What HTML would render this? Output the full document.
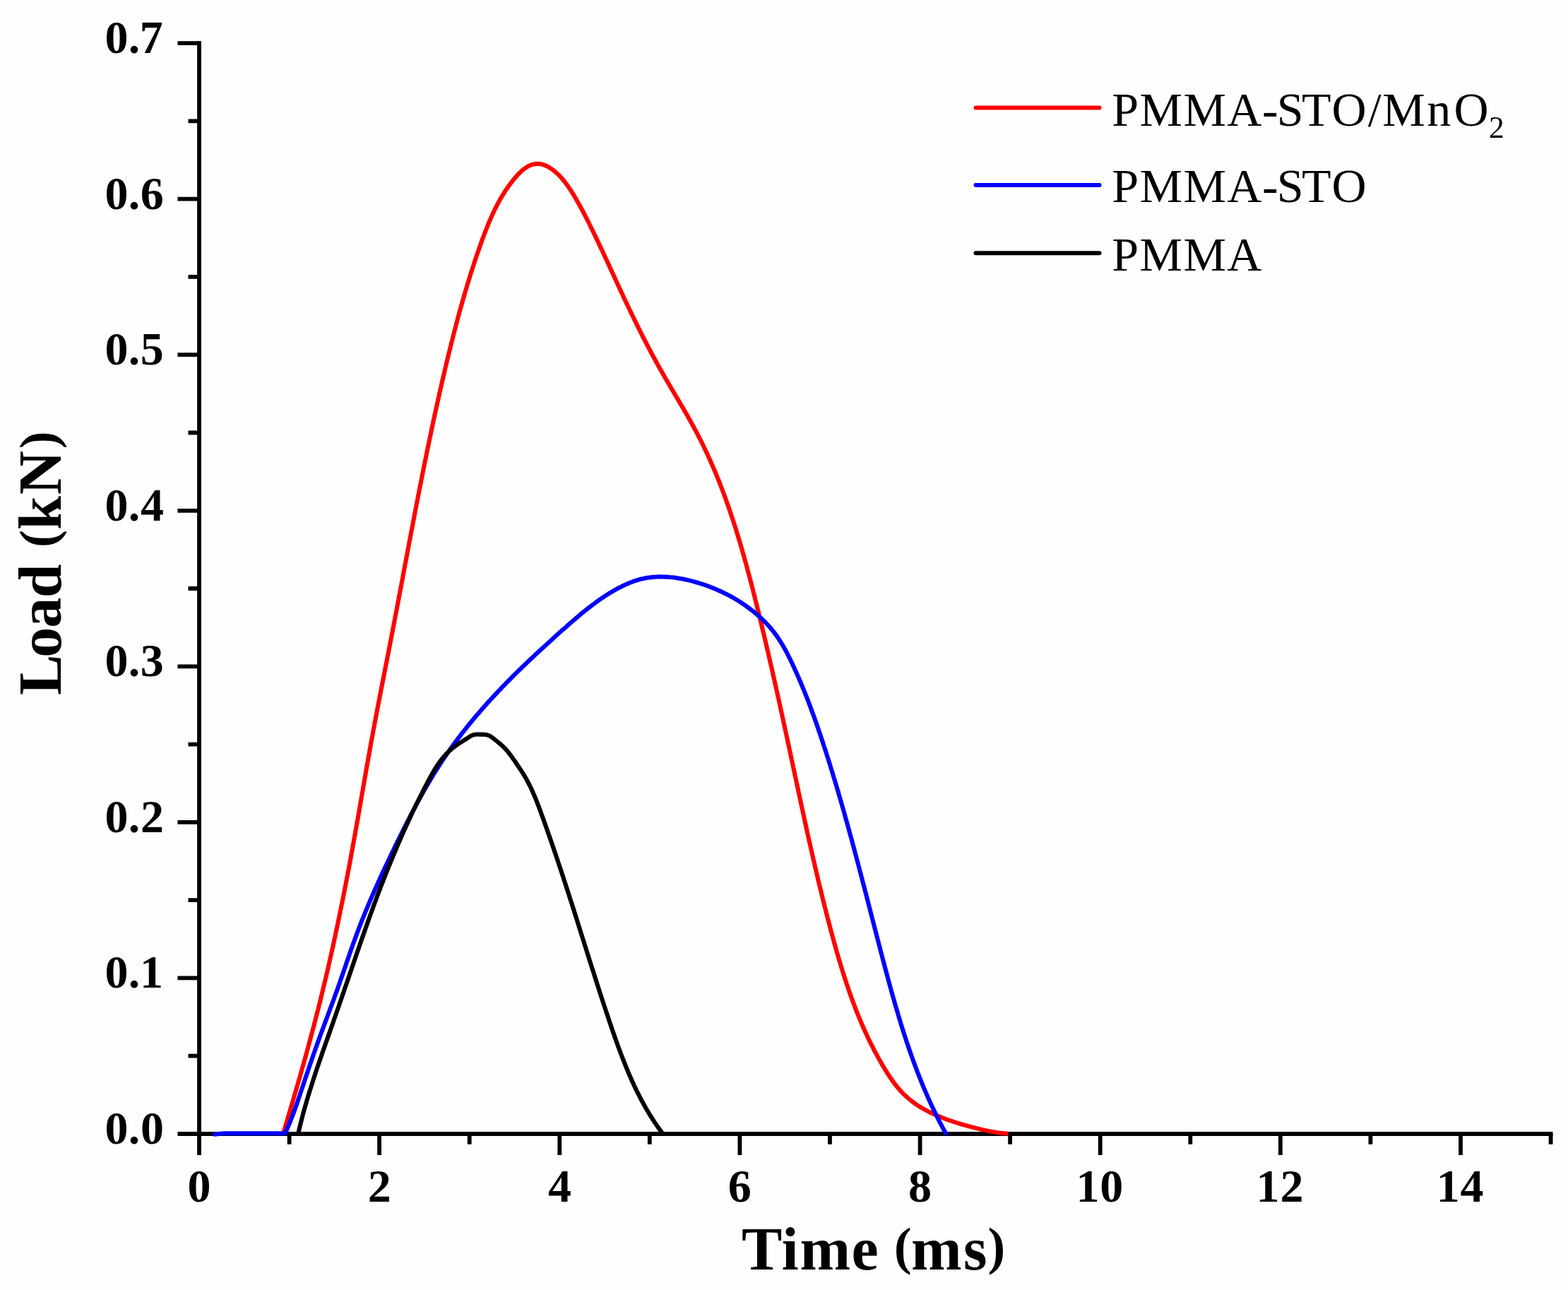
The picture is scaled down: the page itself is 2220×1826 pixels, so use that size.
<!DOCTYPE html>
<html><head><meta charset="utf-8"><title>Load vs Time</title>
<style>
html,body{margin:0;padding:0;background:#fff;}
body{width:2220px;height:1826px;overflow:hidden;}
svg{display:block;}
</style></head>
<body>
<svg width="2220" height="1826" viewBox="0 0 2220 1826">
<rect width="2220" height="1826" fill="#fefefe"/>
<path d="M282.0,61.08 V1605.0 H2195.55" fill="none" stroke="#000" stroke-width="5.8" stroke-linecap="square" stroke-linejoin="miter"/>
<path d="M251.5,1605.0H282.0M266.5,1494.7H282.0M251.5,1384.4H282.0M266.5,1274.2H282.0M251.5,1163.9H282.0M266.5,1053.6H282.0M251.5,943.3H282.0M266.5,833.0H282.0M251.5,722.8H282.0M266.5,612.5H282.0M251.5,502.2H282.0M266.5,391.9H282.0M251.5,281.6H282.0M266.5,171.4H282.0M251.5,61.1H282.0M282.0,1605.0V1635.0M409.6,1605.0V1619.7M537.1,1605.0V1635.0M664.7,1605.0V1619.7M792.3,1605.0V1635.0M919.8,1605.0V1619.7M1047.4,1605.0V1635.0M1175.0,1605.0V1619.7M1302.6,1605.0V1635.0M1430.1,1605.0V1619.7M1557.7,1605.0V1635.0M1685.3,1605.0V1619.7M1812.8,1605.0V1635.0M1940.4,1605.0V1619.7M2068.0,1605.0V1635.0M2195.6,1605.0V1619.7" fill="none" stroke="#000" stroke-width="5.8" stroke-linecap="butt"/>
<path d="M401.2,1603.8 L402.0,1600.9 L402.9,1598.1 L403.8,1595.2 L404.6,1592.3 L405.5,1589.5 L406.3,1586.6 L407.2,1583.7 L408.0,1580.8 L408.9,1578.0 L409.7,1575.1 L410.6,1572.2 L411.4,1569.4 L412.3,1566.5 L413.1,1563.6 L414.0,1560.7 L414.8,1557.9 L415.6,1555.0 L416.5,1552.1 L417.3,1549.2 L418.1,1546.4 L419.0,1543.5 L419.8,1540.6 L420.6,1537.7 L421.5,1534.8 L422.3,1532.0 L423.1,1529.1 L424.0,1526.2 L424.8,1523.3 L425.6,1520.4 L426.4,1517.6 L427.2,1514.7 L428.0,1511.8 L428.9,1508.9 L429.7,1506.0 L430.5,1503.1 L431.3,1500.2 L432.1,1497.4 L432.9,1494.5 L433.7,1491.6 L434.5,1488.7 L435.3,1485.8 L436.1,1482.9 L436.8,1480.0 L437.6,1477.1 L438.4,1474.2 L439.2,1471.3 L440.0,1468.4 L440.7,1465.5 L441.5,1462.6 L442.3,1459.7 L443.1,1456.9 L443.8,1454.0 L444.6,1451.1 L445.3,1448.2 L446.1,1445.3 L446.8,1442.4 L447.6,1439.4 L448.3,1436.5 L449.1,1433.6 L449.8,1430.7 L450.6,1427.8 L451.3,1424.9 L452.0,1422.0 L452.8,1419.1 L453.5,1416.2 L454.2,1413.3 L454.9,1410.4 L455.6,1407.5 L456.3,1404.6 L457.0,1401.6 L457.7,1398.7 L458.4,1395.8 L459.1,1392.9 L459.8,1390.0 L460.5,1387.1 L461.2,1384.2 L461.9,1381.2 L462.6,1378.3 L463.3,1375.4 L463.9,1372.5 L464.6,1369.6 L465.3,1366.6 L466.0,1363.7 L466.6,1360.8 L467.3,1357.9 L467.9,1354.9 L468.6,1352.0 L469.2,1349.1 L469.9,1346.2 L470.5,1343.2 L471.2,1340.3 L471.8,1337.4 L472.5,1334.5 L473.1,1331.5 L473.7,1328.6 L474.4,1325.7 L475.0,1322.7 L475.6,1319.8 L476.2,1316.9 L476.9,1314.0 L477.5,1311.0 L478.1,1308.1 L478.7,1305.2 L479.3,1302.2 L479.9,1299.3 L480.5,1296.3 L481.1,1293.4 L481.7,1290.5 L482.3,1287.5 L482.9,1284.6 L483.5,1281.7 L484.1,1278.7 L484.7,1275.8 L485.3,1272.8 L485.9,1269.9 L486.5,1267.0 L487.1,1264.0 L487.6,1261.1 L488.2,1258.1 L488.8,1255.2 L489.4,1252.3 L489.9,1249.3 L490.5,1246.4 L491.1,1243.4 L491.6,1240.5 L492.2,1237.5 L492.7,1234.6 L493.3,1231.7 L493.9,1228.7 L494.4,1225.8 L495.0,1222.8 L495.5,1219.9 L496.1,1216.9 L496.6,1214.0 L497.1,1211.0 L497.7,1208.1 L498.2,1205.1 L498.8,1202.2 L499.3,1199.2 L499.8,1196.3 L500.4,1193.3 L500.9,1190.4 L501.4,1187.4 L502.0,1184.5 L502.5,1181.5 L503.0,1178.6 L503.5,1175.6 L504.1,1172.7 L504.6,1169.7 L505.1,1166.8 L505.6,1163.8 L506.2,1160.9 L506.7,1157.9 L507.2,1155.0 L507.7,1152.0 L508.2,1149.1 L508.7,1146.1 L509.3,1143.2 L509.8,1140.2 L510.3,1137.3 L510.8,1134.3 L511.3,1131.4 L511.8,1128.4 L512.3,1125.5 L512.8,1122.5 L513.4,1119.6 L513.9,1116.6 L514.4,1113.7 L514.9,1110.7 L515.4,1107.8 L515.9,1104.8 L516.4,1101.8 L517.0,1098.9 L517.5,1095.9 L518.0,1093.0 L518.5,1090.0 L519.0,1087.1 L519.5,1084.1 L520.1,1081.2 L520.6,1078.2 L521.1,1075.3 L521.6,1072.3 L522.2,1069.4 L522.7,1066.4 L523.2,1063.5 L523.7,1060.5 L524.3,1057.6 L524.8,1054.6 L525.3,1051.7 L525.9,1048.7 L526.4,1045.8 L527.0,1042.8 L527.5,1039.9 L528.0,1036.9 L528.6,1034.0 L529.1,1031.1 L529.7,1028.1 L530.2,1025.2 L530.8,1022.2 L531.3,1019.3 L531.9,1016.3 L532.5,1013.4 L533.0,1010.4 L533.6,1007.5 L534.1,1004.5 L534.7,1001.6 L535.3,998.7 L535.8,995.7 L536.4,992.8 L537.0,989.8 L537.5,986.9 L538.1,983.9 L538.7,981.0 L539.2,978.0 L539.8,975.1 L540.4,972.2 L541.0,969.2 L541.5,966.3 L542.1,963.3 L542.7,960.4 L543.3,957.4 L543.8,954.5 L544.4,951.6 L545.0,948.6 L545.6,945.7 L546.1,942.7 L546.7,939.8 L547.3,936.9 L547.9,933.9 L548.4,931.0 L549.0,928.0 L549.6,925.1 L550.2,922.1 L550.7,919.2 L551.3,916.3 L551.9,913.3 L552.4,910.4 L553.0,907.4 L553.6,904.5 L554.2,901.5 L554.7,898.6 L555.3,895.7 L555.9,892.7 L556.4,889.8 L557.0,886.8 L557.6,883.9 L558.1,880.9 L558.7,878.0 L559.2,875.1 L559.8,872.1 L560.4,869.2 L560.9,866.2 L561.5,863.3 L562.0,860.3 L562.6,857.4 L563.2,854.5 L563.7,851.5 L564.3,848.6 L564.8,845.6 L565.4,842.7 L565.9,839.7 L566.5,836.8 L567.0,833.9 L567.6,830.9 L568.2,828.0 L568.7,825.0 L569.3,822.1 L569.8,819.1 L570.4,816.2 L570.9,813.2 L571.5,810.3 L572.0,807.4 L572.6,804.4 L573.1,801.5 L573.7,798.5 L574.3,795.6 L574.8,792.6 L575.4,789.7 L575.9,786.7 L576.5,783.8 L577.0,780.9 L577.6,777.9 L578.1,775.0 L578.7,772.0 L579.2,769.1 L579.8,766.1 L580.4,763.2 L580.9,760.3 L581.5,757.3 L582.0,754.4 L582.6,751.4 L583.2,748.5 L583.7,745.5 L584.3,742.6 L584.8,739.7 L585.4,736.7 L586.0,733.8 L586.5,730.8 L587.1,727.9 L587.6,724.9 L588.2,722.0 L588.8,719.1 L589.3,716.1 L589.9,713.2 L590.5,710.2 L591.1,707.3 L591.6,704.3 L592.2,701.4 L592.8,698.5 L593.3,695.5 L593.9,692.6 L594.5,689.6 L595.1,686.7 L595.7,683.8 L596.2,680.8 L596.8,677.9 L597.4,674.9 L598.0,672.0 L598.6,669.0 L599.2,666.1 L599.7,663.2 L600.3,660.2 L600.9,657.3 L601.5,654.3 L602.1,651.4 L602.7,648.5 L603.3,645.5 L603.9,642.6 L604.5,639.7 L605.1,636.7 L605.7,633.8 L606.3,630.8 L606.9,627.9 L607.5,625.0 L608.1,622.0 L608.7,619.1 L609.4,616.2 L610.0,613.2 L610.6,610.3 L611.2,607.3 L611.8,604.4 L612.5,601.5 L613.1,598.5 L613.7,595.6 L614.3,592.7 L615.0,589.7 L615.6,586.8 L616.2,583.9 L616.9,580.9 L617.5,578.0 L618.2,575.1 L618.8,572.2 L619.5,569.2 L620.1,566.3 L620.8,563.4 L621.4,560.4 L622.1,557.5 L622.7,554.6 L623.4,551.7 L624.1,548.7 L624.7,545.8 L625.4,542.9 L626.1,540.0 L626.7,537.1 L627.4,534.1 L628.1,531.2 L628.8,528.3 L629.5,525.4 L630.1,522.5 L630.8,519.6 L631.5,516.6 L632.2,513.7 L632.9,510.8 L633.6,507.9 L634.3,505.0 L635.0,502.1 L635.7,499.2 L636.5,496.3 L637.2,493.4 L637.9,490.5 L638.6,487.6 L639.3,484.7 L640.1,481.8 L640.8,478.9 L641.5,476.0 L642.3,473.1 L643.0,470.2 L643.8,467.3 L644.5,464.4 L645.3,461.5 L646.1,458.6 L646.8,455.7 L647.6,452.8 L648.4,449.9 L649.1,447.0 L649.9,444.2 L650.7,441.3 L651.5,438.4 L652.3,435.5 L653.1,432.6 L653.9,429.8 L654.7,426.9 L655.5,424.0 L656.4,421.1 L657.2,418.3 L658.0,415.4 L658.9,412.5 L659.7,409.7 L660.6,406.8 L661.4,403.9 L662.3,401.1 L663.2,398.2 L664.1,395.3 L664.9,392.5 L665.8,389.6 L666.7,386.8 L667.6,383.9 L668.6,381.0 L669.5,378.2 L670.4,375.3 L671.3,372.5 L672.3,369.6 L673.2,366.8 L674.2,363.9 L675.1,361.1 L676.1,358.3 L677.1,355.4 L678.1,352.6 L679.1,349.7 L680.1,346.9 L681.1,344.1 L682.1,341.2 L683.1,338.4 L684.2,335.6 L685.2,332.8 L686.3,329.9 L687.4,327.1 L688.5,324.3 L689.6,321.5 L690.7,318.7 L691.8,316.0 L693.0,313.2 L694.2,310.4 L695.4,307.7 L696.6,304.9 L697.9,302.2 L699.1,299.5 L700.4,296.8 L701.8,294.1 L703.1,291.5 L704.5,288.8 L705.9,286.2 L707.3,283.6 L708.8,281.0 L710.3,278.4 L711.9,275.9 L713.4,273.3 L715.0,270.8 L716.7,268.3 L718.4,265.9 L720.1,263.4 L721.9,261.0 L723.7,258.6 L725.5,256.3 L727.4,253.9 L729.3,251.6 L731.3,249.4 L733.3,247.1 L735.4,245.0 L737.6,242.8 L739.8,240.8 L742.2,238.9 L744.7,237.2 L747.2,235.6 L749.9,234.3 L752.7,233.2 L755.5,232.4 L758.4,231.9 L761.2,231.8 L764.1,232.0 L767.0,232.5 L769.8,233.4 L772.6,234.4 L775.3,235.7 L777.9,237.2 L780.5,238.9 L782.9,240.6 L785.3,242.5 L787.5,244.4 L789.7,246.4 L791.9,248.5 L793.9,250.7 L795.9,252.9 L797.8,255.2 L799.7,257.6 L801.5,260.0 L803.3,262.4 L805.0,264.9 L806.7,267.4 L808.4,269.9 L810.0,272.5 L811.6,275.0 L813.1,277.6 L814.7,280.2 L816.2,282.8 L817.7,285.4 L819.1,288.0 L820.6,290.6 L822.0,293.2 L823.5,295.8 L824.9,298.5 L826.3,301.1 L827.6,303.7 L829.0,306.4 L830.4,309.0 L831.7,311.7 L833.1,314.4 L834.4,317.0 L835.7,319.7 L837.0,322.4 L838.4,325.1 L839.7,327.8 L841.0,330.5 L842.3,333.2 L843.6,335.8 L844.9,338.6 L846.2,341.3 L847.5,344.0 L848.7,346.7 L850.0,349.4 L851.3,352.1 L852.6,354.8 L853.8,357.5 L855.1,360.3 L856.4,363.0 L857.6,365.7 L858.9,368.4 L860.2,371.2 L861.4,373.9 L862.7,376.6 L863.9,379.4 L865.2,382.1 L866.4,384.8 L867.7,387.5 L869.0,390.3 L870.2,393.0 L871.5,395.7 L872.7,398.5 L874.0,401.2 L875.2,403.9 L876.5,406.6 L877.8,409.4 L879.0,412.1 L880.3,414.8 L881.6,417.5 L882.8,420.2 L884.1,423.0 L885.4,425.7 L886.7,428.4 L888.0,431.1 L889.2,433.8 L890.5,436.5 L891.8,439.2 L893.1,441.9 L894.4,444.6 L895.7,447.3 L897.0,450.0 L898.3,452.7 L899.7,455.4 L901.0,458.1 L902.3,460.8 L903.6,463.4 L905.0,466.1 L906.3,468.8 L907.6,471.5 L909.0,474.1 L910.3,476.8 L911.7,479.5 L913.1,482.1 L914.4,484.8 L915.8,487.4 L917.2,490.1 L918.6,492.8 L920.0,495.4 L921.4,498.0 L922.8,500.7 L924.2,503.3 L925.6,506.0 L927.1,508.6 L928.5,511.2 L929.9,513.8 L931.4,516.5 L932.8,519.1 L934.3,521.7 L935.8,524.3 L937.3,526.9 L938.7,529.5 L940.2,532.1 L941.7,534.7 L943.2,537.3 L944.8,539.9 L946.3,542.5 L947.8,545.1 L949.3,547.7 L950.8,550.2 L952.4,552.8 L953.9,555.4 L955.4,558.0 L956.9,560.6 L958.5,563.2 L960.0,565.8 L961.5,568.3 L963.0,570.9 L964.5,573.5 L966.1,576.1 L967.6,578.7 L969.1,581.3 L970.6,583.9 L972.1,586.5 L973.6,589.1 L975.0,591.7 L976.5,594.3 L978.0,597.0 L979.4,599.6 L980.9,602.2 L982.3,604.8 L983.7,607.5 L985.2,610.1 L986.6,612.8 L988.0,615.4 L989.3,618.1 L990.7,620.7 L992.1,623.4 L993.4,626.1 L994.7,628.8 L996.0,631.5 L997.3,634.2 L998.6,636.9 L999.9,639.6 L1001.2,642.3 L1002.4,645.0 L1003.7,647.7 L1004.9,650.5 L1006.1,653.2 L1007.3,656.0 L1008.5,658.7 L1009.7,661.4 L1010.9,664.2 L1012.1,667.0 L1013.2,669.7 L1014.4,672.5 L1015.5,675.3 L1016.6,678.0 L1017.7,680.8 L1018.9,683.6 L1019.9,686.4 L1021.0,689.2 L1022.1,692.0 L1023.2,694.8 L1024.2,697.6 L1025.3,700.4 L1026.3,703.2 L1027.3,706.0 L1028.3,708.8 L1029.3,711.7 L1030.3,714.5 L1031.3,717.3 L1032.3,720.1 L1033.3,723.0 L1034.2,725.8 L1035.2,728.6 L1036.1,731.5 L1037.1,734.3 L1038.0,737.2 L1038.9,740.0 L1039.9,742.9 L1040.8,745.7 L1041.7,748.6 L1042.6,751.4 L1043.4,754.3 L1044.3,757.2 L1045.2,760.0 L1046.1,762.9 L1046.9,765.8 L1047.8,768.6 L1048.6,771.5 L1049.5,774.4 L1050.3,777.3 L1051.1,780.1 L1051.9,783.0 L1052.8,785.9 L1053.6,788.8 L1054.4,791.7 L1055.2,794.6 L1056.0,797.4 L1056.8,800.3 L1057.6,803.2 L1058.3,806.1 L1059.1,809.0 L1059.9,811.9 L1060.7,814.8 L1061.4,817.7 L1062.2,820.6 L1063.0,823.5 L1063.7,826.4 L1064.5,829.3 L1065.2,832.2 L1066.0,835.1 L1066.7,838.0 L1067.4,840.9 L1068.2,843.8 L1068.9,846.8 L1069.6,849.7 L1070.4,852.6 L1071.1,855.5 L1071.8,858.4 L1072.5,861.3 L1073.2,864.2 L1074.0,867.1 L1074.7,870.0 L1075.4,872.9 L1076.1,875.9 L1076.8,878.8 L1077.5,881.7 L1078.2,884.6 L1078.9,887.5 L1079.6,890.4 L1080.3,893.3 L1081.0,896.3 L1081.7,899.2 L1082.4,902.1 L1083.1,905.0 L1083.8,907.9 L1084.5,910.9 L1085.1,913.8 L1085.8,916.7 L1086.5,919.6 L1087.2,922.5 L1087.9,925.4 L1088.5,928.4 L1089.2,931.3 L1089.9,934.2 L1090.5,937.1 L1091.2,940.1 L1091.9,943.0 L1092.6,945.9 L1093.2,948.8 L1093.9,951.7 L1094.5,954.7 L1095.2,957.6 L1095.9,960.5 L1096.5,963.4 L1097.2,966.4 L1097.8,969.3 L1098.5,972.2 L1099.1,975.1 L1099.8,978.1 L1100.4,981.0 L1101.1,983.9 L1101.7,986.8 L1102.4,989.8 L1103.0,992.7 L1103.7,995.6 L1104.3,998.5 L1104.9,1001.5 L1105.6,1004.4 L1106.2,1007.3 L1106.9,1010.3 L1107.5,1013.2 L1108.1,1016.1 L1108.8,1019.0 L1109.4,1022.0 L1110.0,1024.9 L1110.7,1027.8 L1111.3,1030.7 L1111.9,1033.7 L1112.6,1036.6 L1113.2,1039.5 L1113.8,1042.5 L1114.5,1045.4 L1115.1,1048.3 L1115.7,1051.2 L1116.4,1054.2 L1117.0,1057.1 L1117.6,1060.0 L1118.2,1063.0 L1118.9,1065.9 L1119.5,1068.8 L1120.1,1071.8 L1120.7,1074.7 L1121.4,1077.6 L1122.0,1080.5 L1122.6,1083.5 L1123.2,1086.4 L1123.9,1089.3 L1124.5,1092.3 L1125.1,1095.2 L1125.7,1098.1 L1126.4,1101.1 L1127.0,1104.0 L1127.6,1106.9 L1128.2,1109.8 L1128.9,1112.8 L1129.5,1115.7 L1130.1,1118.6 L1130.7,1121.6 L1131.4,1124.5 L1132.0,1127.4 L1132.6,1130.3 L1133.2,1133.3 L1133.9,1136.2 L1134.5,1139.1 L1135.1,1142.1 L1135.8,1145.0 L1136.4,1147.9 L1137.0,1150.8 L1137.7,1153.8 L1138.3,1156.7 L1138.9,1159.6 L1139.6,1162.5 L1140.2,1165.5 L1140.9,1168.4 L1141.5,1171.3 L1142.1,1174.3 L1142.8,1177.2 L1143.4,1180.1 L1144.1,1183.0 L1144.7,1185.9 L1145.4,1188.9 L1146.0,1191.8 L1146.7,1194.7 L1147.4,1197.6 L1148.0,1200.6 L1148.7,1203.5 L1149.3,1206.4 L1150.0,1209.3 L1150.7,1212.3 L1151.3,1215.2 L1152.0,1218.1 L1152.7,1221.0 L1153.4,1223.9 L1154.0,1226.9 L1154.7,1229.8 L1155.4,1232.7 L1156.1,1235.6 L1156.8,1238.5 L1157.5,1241.4 L1158.1,1244.4 L1158.8,1247.3 L1159.5,1250.2 L1160.2,1253.1 L1160.9,1256.0 L1161.6,1258.9 L1162.4,1261.8 L1163.1,1264.8 L1163.8,1267.7 L1164.5,1270.6 L1165.2,1273.5 L1165.9,1276.4 L1166.7,1279.3 L1167.4,1282.2 L1168.1,1285.1 L1168.9,1288.0 L1169.6,1290.9 L1170.3,1293.9 L1171.1,1296.8 L1171.8,1299.7 L1172.6,1302.6 L1173.4,1305.5 L1174.1,1308.4 L1174.9,1311.3 L1175.7,1314.2 L1176.4,1317.1 L1177.2,1320.0 L1178.0,1322.9 L1178.8,1325.8 L1179.6,1328.7 L1180.3,1331.6 L1181.1,1334.5 L1182.0,1337.4 L1182.8,1340.3 L1183.6,1343.2 L1184.4,1346.0 L1185.2,1348.9 L1186.1,1351.8 L1186.9,1354.7 L1187.7,1357.6 L1188.6,1360.5 L1189.5,1363.3 L1190.3,1366.2 L1191.2,1369.1 L1192.1,1371.9 L1193.0,1374.8 L1193.9,1377.7 L1194.8,1380.5 L1195.7,1383.4 L1196.6,1386.2 L1197.5,1389.1 L1198.5,1391.9 L1199.4,1394.8 L1200.4,1397.6 L1201.4,1400.5 L1202.3,1403.3 L1203.3,1406.1 L1204.3,1408.9 L1205.3,1411.8 L1206.4,1414.6 L1207.4,1417.4 L1208.4,1420.2 L1209.5,1423.0 L1210.6,1425.8 L1211.6,1428.6 L1212.7,1431.4 L1213.8,1434.1 L1214.9,1436.9 L1216.1,1439.7 L1217.2,1442.4 L1218.4,1445.2 L1219.5,1447.9 L1220.7,1450.7 L1221.9,1453.4 L1223.1,1456.2 L1224.3,1458.9 L1225.6,1461.6 L1226.8,1464.3 L1228.1,1467.0 L1229.3,1469.7 L1230.6,1472.4 L1231.9,1475.1 L1233.3,1477.8 L1234.6,1480.5 L1236.0,1483.1 L1237.3,1485.8 L1238.7,1488.5 L1240.1,1491.1 L1241.6,1493.7 L1243.0,1496.4 L1244.4,1499.0 L1245.9,1501.6 L1247.4,1504.2 L1248.9,1506.8 L1250.4,1509.4 L1252.0,1512.0 L1253.5,1514.5 L1255.1,1517.1 L1256.7,1519.6 L1258.4,1522.2 L1260.0,1524.7 L1261.7,1527.1 L1263.5,1529.6 L1265.2,1532.0 L1267.0,1534.4 L1268.8,1536.8 L1270.7,1539.1 L1272.6,1541.4 L1274.6,1543.6 L1276.6,1545.8 L1278.7,1548.0 L1280.8,1550.1 L1283.0,1552.1 L1285.2,1554.1 L1287.5,1556.0 L1289.8,1557.9 L1292.2,1559.7 L1294.6,1561.5 L1297.1,1563.2 L1299.6,1564.9 L1302.1,1566.5 L1304.7,1568.0 L1307.3,1569.6 L1310.0,1571.0 L1312.7,1572.4 L1315.3,1573.8 L1318.1,1575.2 L1320.8,1576.5 L1323.5,1577.7 L1326.2,1578.9 L1329.0,1580.1 L1331.8,1581.2 L1334.5,1582.3 L1337.3,1583.4 L1340.1,1584.5 L1342.9,1585.5 L1345.7,1586.4 L1348.6,1587.4 L1351.4,1588.3 L1354.2,1589.2 L1357.1,1590.1 L1360.0,1591.0 L1362.8,1591.8 L1365.7,1592.6 L1368.6,1593.4 L1371.5,1594.2 L1374.4,1594.9 L1377.3,1595.7 L1380.2,1596.4 L1383.1,1597.2 L1386.0,1597.9 L1388.9,1598.6 L1391.9,1599.3 L1394.8,1599.9 L1397.8,1600.6 L1400.7,1601.2 L1403.7,1601.7 L1406.6,1602.3 L1409.6,1602.7 L1412.5,1603.2 L1415.5,1603.6 L1418.5,1603.9 L1421.4,1604.2 L1424.4,1604.4 L1427.4,1604.5" fill="none" stroke="#ff0000" stroke-width="6.1" stroke-linejoin="round" stroke-linecap="butt"/>
<path d="M304.0,1605.6 L317.0,1604.3 L403.6,1604.1 L404.9,1601.4 L406.1,1598.7 L407.3,1596.0 L408.5,1593.3 L409.7,1590.5 L410.8,1587.8 L411.9,1585.0 L413.0,1582.2 L414.1,1579.4 L415.2,1576.6 L416.2,1573.8 L417.2,1571.0 L418.2,1568.2 L419.2,1565.4 L420.2,1562.5 L421.2,1559.7 L422.2,1556.9 L423.1,1554.0 L424.1,1551.2 L425.0,1548.3 L426.0,1545.5 L426.9,1542.6 L427.9,1539.8 L428.9,1536.9 L429.8,1534.1 L430.8,1531.2 L431.7,1528.4 L432.7,1525.5 L433.6,1522.7 L434.6,1519.9 L435.5,1517.0 L436.5,1514.2 L437.5,1511.3 L438.4,1508.5 L439.4,1505.7 L440.4,1502.8 L441.4,1500.0 L442.3,1497.2 L443.3,1494.3 L444.3,1491.5 L445.3,1488.7 L446.3,1485.8 L447.3,1483.0 L448.3,1480.2 L449.3,1477.4 L450.3,1474.5 L451.3,1471.7 L452.3,1468.9 L453.4,1466.1 L454.4,1463.3 L455.4,1460.5 L456.5,1457.6 L457.5,1454.8 L458.6,1452.0 L459.6,1449.2 L460.7,1446.4 L461.7,1443.6 L462.8,1440.8 L463.8,1438.0 L464.8,1435.2 L465.9,1432.4 L466.9,1429.5 L468.0,1426.7 L469.0,1423.9 L470.1,1421.1 L471.1,1418.3 L472.2,1415.5 L473.2,1412.7 L474.2,1409.8 L475.2,1407.0 L476.3,1404.2 L477.3,1401.4 L478.3,1398.6 L479.3,1395.7 L480.3,1392.9 L481.3,1390.1 L482.2,1387.2 L483.2,1384.4 L484.2,1381.6 L485.2,1378.8 L486.2,1375.9 L487.1,1373.1 L488.1,1370.3 L489.1,1367.4 L490.1,1364.6 L491.0,1361.7 L492.0,1358.9 L493.0,1356.1 L494.0,1353.3 L494.9,1350.4 L495.9,1347.6 L496.9,1344.8 L497.9,1341.9 L498.9,1339.1 L499.9,1336.3 L500.9,1333.5 L501.9,1330.7 L503.0,1327.8 L504.0,1325.0 L505.1,1322.2 L506.1,1319.4 L507.2,1316.6 L508.2,1313.8 L509.3,1311.0 L510.4,1308.2 L511.5,1305.4 L512.6,1302.7 L513.7,1299.9 L514.8,1297.1 L516.0,1294.3 L517.1,1291.5 L518.2,1288.8 L519.4,1286.0 L520.5,1283.2 L521.7,1280.5 L522.9,1277.7 L524.0,1274.9 L525.2,1272.2 L526.4,1269.4 L527.6,1266.7 L528.8,1263.9 L530.0,1261.2 L531.2,1258.4 L532.5,1255.7 L533.7,1253.0 L534.9,1250.2 L536.1,1247.5 L537.4,1244.8 L538.6,1242.0 L539.9,1239.3 L541.1,1236.6 L542.4,1233.9 L543.7,1231.1 L544.9,1228.4 L546.2,1225.7 L547.5,1223.0 L548.8,1220.3 L550.1,1217.6 L551.4,1214.8 L552.7,1212.1 L554.0,1209.4 L555.3,1206.7 L556.6,1204.0 L557.9,1201.3 L559.2,1198.6 L560.5,1195.9 L561.8,1193.2 L563.2,1190.5 L564.5,1187.8 L565.8,1185.2 L567.1,1182.5 L568.5,1179.8 L569.8,1177.1 L571.1,1174.4 L572.5,1171.7 L573.8,1169.0 L575.2,1166.4 L576.5,1163.7 L577.9,1161.0 L579.3,1158.4 L580.6,1155.7 L582.0,1153.0 L583.4,1150.4 L584.8,1147.7 L586.2,1145.1 L587.6,1142.4 L589.0,1139.8 L590.4,1137.2 L591.8,1134.5 L593.3,1131.9 L594.7,1129.3 L596.2,1126.6 L597.6,1124.0 L599.1,1121.4 L600.5,1118.8 L602.0,1116.2 L603.5,1113.6 L605.0,1111.0 L606.5,1108.4 L608.1,1105.9 L609.6,1103.3 L611.1,1100.7 L612.7,1098.2 L614.2,1095.6 L615.8,1093.1 L617.4,1090.5 L619.0,1088.0 L620.6,1085.5 L622.2,1083.0 L623.8,1080.5 L625.5,1077.9 L627.1,1075.4 L628.8,1073.0 L630.5,1070.5 L632.2,1068.0 L633.9,1065.5 L635.6,1063.1 L637.4,1060.6 L639.1,1058.2 L640.9,1055.8 L642.6,1053.3 L644.4,1050.9 L646.2,1048.5 L648.0,1046.1 L649.8,1043.7 L651.7,1041.3 L653.5,1038.9 L655.3,1036.5 L657.2,1034.2 L659.1,1031.8 L660.9,1029.5 L662.8,1027.1 L664.7,1024.8 L666.6,1022.5 L668.5,1020.1 L670.5,1017.8 L672.4,1015.5 L674.3,1013.2 L676.3,1010.9 L678.3,1008.7 L680.2,1006.4 L682.2,1004.1 L684.2,1001.9 L686.2,999.6 L688.2,997.4 L690.2,995.1 L692.2,992.9 L694.2,990.7 L696.3,988.5 L698.3,986.3 L700.3,984.1 L702.4,981.9 L704.4,979.7 L706.5,977.5 L708.6,975.3 L710.6,973.2 L712.7,971.0 L714.8,968.9 L716.9,966.7 L719.0,964.6 L721.1,962.5 L723.2,960.4 L725.3,958.2 L727.4,956.1 L729.5,954.0 L731.7,951.9 L733.8,949.8 L735.9,947.8 L738.1,945.7 L740.2,943.6 L742.4,941.5 L744.5,939.5 L746.7,937.4 L748.9,935.3 L751.0,933.3 L753.2,931.2 L755.4,929.2 L757.6,927.1 L759.8,925.1 L762.0,923.1 L764.2,921.0 L766.3,919.0 L768.5,917.0 L770.8,914.9 L773.0,912.9 L775.2,910.9 L777.4,908.9 L779.6,906.9 L781.8,904.9 L784.1,902.8 L786.3,900.8 L788.5,898.8 L790.7,896.8 L793.0,894.8 L795.2,892.8 L797.4,890.8 L799.7,888.9 L801.9,886.9 L804.2,884.9 L806.4,882.9 L808.7,881.0 L810.9,879.0 L813.2,877.1 L815.5,875.1 L817.7,873.2 L820.0,871.3 L822.3,869.3 L824.6,867.4 L826.9,865.6 L829.3,863.7 L831.6,861.8 L833.9,860.0 L836.3,858.2 L838.7,856.4 L841.1,854.6 L843.5,852.8 L845.9,851.1 L848.3,849.3 L850.8,847.6 L853.3,845.9 L855.8,844.3 L858.3,842.6 L860.8,841.0 L863.4,839.4 L865.9,837.9 L868.5,836.4 L871.2,834.9 L873.8,833.4 L876.4,832.0 L879.1,830.7 L881.8,829.3 L884.5,828.0 L887.3,826.8 L890.0,825.6 L892.8,824.5 L895.6,823.4 L898.4,822.4 L901.2,821.5 L904.1,820.6 L906.9,819.8 L909.9,819.2 L912.8,818.6 L915.7,818.0 L918.7,817.6 L921.6,817.2 L924.6,816.9 L927.6,816.7 L930.5,816.5 L933.5,816.4 L936.5,816.4 L939.5,816.5 L942.5,816.6 L945.4,816.7 L948.4,817.0 L951.4,817.2 L954.4,817.6 L957.4,818.0 L960.3,818.4 L963.3,818.9 L966.3,819.4 L969.2,820.0 L972.2,820.7 L975.1,821.4 L978.1,822.1 L981.0,822.9 L983.9,823.7 L986.8,824.5 L989.7,825.4 L992.6,826.3 L995.4,827.2 L998.3,828.2 L1001.1,829.2 L1003.9,830.2 L1006.7,831.3 L1009.5,832.4 L1012.3,833.5 L1015.0,834.7 L1017.7,835.9 L1020.5,837.1 L1023.2,838.4 L1025.8,839.7 L1028.5,841.0 L1031.1,842.4 L1033.8,843.8 L1036.4,845.2 L1039.0,846.7 L1041.5,848.2 L1044.1,849.7 L1046.6,851.3 L1049.1,852.9 L1051.6,854.5 L1054.1,856.2 L1056.5,857.9 L1058.9,859.7 L1061.3,861.5 L1063.7,863.3 L1066.1,865.2 L1068.4,867.1 L1070.7,869.0 L1073.0,871.0 L1075.3,873.0 L1077.5,875.0 L1079.7,877.1 L1081.8,879.2 L1084.0,881.3 L1086.0,883.5 L1088.1,885.7 L1090.1,888.0 L1092.0,890.3 L1093.9,892.6 L1095.8,894.9 L1097.6,897.3 L1099.4,899.7 L1101.1,902.2 L1102.7,904.7 L1104.4,907.2 L1105.9,909.7 L1107.5,912.3 L1109.0,914.8 L1110.4,917.4 L1111.9,920.0 L1113.3,922.7 L1114.7,925.3 L1116.0,928.0 L1117.4,930.7 L1118.7,933.3 L1120.0,936.0 L1121.3,938.7 L1122.6,941.4 L1123.8,944.1 L1125.1,946.9 L1126.3,949.6 L1127.6,952.3 L1128.8,955.0 L1130.0,957.8 L1131.2,960.5 L1132.4,963.3 L1133.6,966.0 L1134.7,968.8 L1135.9,971.6 L1137.0,974.3 L1138.2,977.1 L1139.3,979.9 L1140.4,982.7 L1141.5,985.4 L1142.6,988.2 L1143.7,991.0 L1144.8,993.8 L1145.8,996.6 L1146.9,999.4 L1147.9,1002.2 L1149.0,1005.1 L1150.0,1007.9 L1151.0,1010.7 L1152.1,1013.5 L1153.1,1016.3 L1154.1,1019.2 L1155.1,1022.0 L1156.1,1024.8 L1157.1,1027.7 L1158.1,1030.5 L1159.0,1033.4 L1160.0,1036.2 L1161.0,1039.0 L1161.9,1041.9 L1162.9,1044.7 L1163.8,1047.6 L1164.8,1050.4 L1165.7,1053.3 L1166.6,1056.1 L1167.6,1059.0 L1168.5,1061.8 L1169.4,1064.7 L1170.3,1067.6 L1171.2,1070.4 L1172.2,1073.3 L1173.1,1076.1 L1174.0,1079.0 L1174.9,1081.9 L1175.7,1084.7 L1176.6,1087.6 L1177.5,1090.4 L1178.4,1093.3 L1179.3,1096.2 L1180.1,1099.0 L1181.0,1101.9 L1181.9,1104.8 L1182.7,1107.7 L1183.6,1110.5 L1184.5,1113.4 L1185.3,1116.3 L1186.2,1119.1 L1187.0,1122.0 L1187.8,1124.9 L1188.7,1127.8 L1189.5,1130.7 L1190.4,1133.5 L1191.2,1136.4 L1192.0,1139.3 L1192.8,1142.2 L1193.7,1145.1 L1194.5,1147.9 L1195.3,1150.8 L1196.1,1153.7 L1196.9,1156.6 L1197.7,1159.5 L1198.5,1162.4 L1199.3,1165.2 L1200.1,1168.1 L1200.9,1171.0 L1201.7,1173.9 L1202.5,1176.8 L1203.3,1179.7 L1204.1,1182.6 L1204.9,1185.5 L1205.7,1188.4 L1206.5,1191.3 L1207.2,1194.2 L1208.0,1197.0 L1208.8,1199.9 L1209.6,1202.8 L1210.3,1205.7 L1211.1,1208.6 L1211.9,1211.5 L1212.7,1214.4 L1213.4,1217.3 L1214.2,1220.2 L1215.0,1223.1 L1215.7,1226.0 L1216.5,1228.9 L1217.2,1231.8 L1218.0,1234.7 L1218.8,1237.6 L1219.5,1240.5 L1220.3,1243.4 L1221.0,1246.3 L1221.8,1249.2 L1222.5,1252.1 L1223.3,1255.0 L1224.1,1257.9 L1224.8,1260.8 L1225.6,1263.7 L1226.3,1266.6 L1227.1,1269.5 L1227.8,1272.4 L1228.6,1275.3 L1229.3,1278.2 L1230.1,1281.1 L1230.8,1284.0 L1231.6,1286.9 L1232.3,1289.9 L1233.1,1292.8 L1233.8,1295.7 L1234.6,1298.6 L1235.3,1301.5 L1236.1,1304.4 L1236.8,1307.3 L1237.6,1310.2 L1238.3,1313.1 L1239.1,1316.0 L1239.8,1318.9 L1240.6,1321.8 L1241.3,1324.7 L1242.1,1327.6 L1242.8,1330.5 L1243.6,1333.4 L1244.3,1336.3 L1245.1,1339.2 L1245.8,1342.1 L1246.6,1345.0 L1247.3,1347.9 L1248.1,1350.9 L1248.9,1353.8 L1249.6,1356.7 L1250.4,1359.6 L1251.2,1362.5 L1251.9,1365.4 L1252.7,1368.3 L1253.5,1371.2 L1254.2,1374.1 L1255.0,1377.0 L1255.8,1379.9 L1256.6,1382.8 L1257.3,1385.7 L1258.1,1388.6 L1258.9,1391.5 L1259.7,1394.4 L1260.5,1397.3 L1261.3,1400.2 L1262.1,1403.1 L1262.9,1405.9 L1263.7,1408.8 L1264.5,1411.7 L1265.4,1414.6 L1266.2,1417.5 L1267.0,1420.4 L1267.8,1423.3 L1268.7,1426.2 L1269.5,1429.0 L1270.4,1431.9 L1271.2,1434.8 L1272.1,1437.7 L1272.9,1440.5 L1273.8,1443.4 L1274.7,1446.3 L1275.5,1449.1 L1276.4,1452.0 L1277.3,1454.9 L1278.2,1457.7 L1279.1,1460.6 L1280.0,1463.4 L1281.0,1466.3 L1281.9,1469.1 L1282.8,1472.0 L1283.7,1474.8 L1284.7,1477.7 L1285.7,1480.5 L1286.6,1483.3 L1287.6,1486.2 L1288.6,1489.0 L1289.6,1491.8 L1290.5,1494.6 L1291.6,1497.5 L1292.6,1500.3 L1293.6,1503.1 L1294.6,1505.9 L1295.7,1508.7 L1296.7,1511.5 L1297.8,1514.3 L1298.8,1517.1 L1299.9,1519.9 L1301.0,1522.7 L1302.1,1525.5 L1303.2,1528.2 L1304.3,1531.0 L1305.5,1533.8 L1306.6,1536.6 L1307.7,1539.3 L1308.9,1542.1 L1310.1,1544.8 L1311.3,1547.6 L1312.5,1550.3 L1313.7,1553.1 L1314.9,1555.8 L1316.1,1558.5 L1317.4,1561.3 L1318.6,1564.0 L1319.9,1566.7 L1321.2,1569.4 L1322.5,1572.1 L1323.8,1574.8 L1325.1,1577.5 L1326.4,1580.2 L1327.8,1582.9 L1329.1,1585.6 L1330.5,1588.3 L1331.9,1590.9 L1333.3,1593.6 L1334.7,1596.3 L1336.1,1598.9 L1337.5,1601.6 L1339.0,1604.2" fill="none" stroke="#0000ff" stroke-width="6.1" stroke-linejoin="round" stroke-linecap="round"/>
<path d="M422.4,1603.6 L423.1,1600.7 L423.8,1597.7 L424.5,1594.8 L425.2,1591.9 L425.9,1589.0 L426.7,1586.1 L427.4,1583.2 L428.2,1580.3 L428.9,1577.4 L429.7,1574.5 L430.5,1571.6 L431.3,1568.7 L432.1,1565.8 L433.0,1562.9 L433.8,1560.1 L434.6,1557.2 L435.5,1554.3 L436.3,1551.4 L437.2,1548.6 L438.1,1545.7 L439.0,1542.8 L439.9,1540.0 L440.8,1537.1 L441.7,1534.3 L442.6,1531.4 L443.5,1528.6 L444.4,1525.7 L445.4,1522.9 L446.3,1520.0 L447.2,1517.2 L448.2,1514.3 L449.1,1511.5 L450.1,1508.7 L451.1,1505.8 L452.0,1503.0 L453.0,1500.2 L454.0,1497.3 L455.0,1494.5 L455.9,1491.7 L456.9,1488.8 L457.9,1486.0 L458.9,1483.2 L459.9,1480.4 L460.9,1477.5 L461.9,1474.7 L462.9,1471.9 L463.9,1469.1 L464.9,1466.2 L465.9,1463.4 L466.9,1460.6 L467.9,1457.8 L468.9,1454.9 L469.9,1452.1 L470.9,1449.3 L471.9,1446.5 L472.8,1443.6 L473.8,1440.8 L474.8,1438.0 L475.8,1435.1 L476.8,1432.3 L477.8,1429.5 L478.8,1426.6 L479.8,1423.8 L480.7,1421.0 L481.7,1418.1 L482.7,1415.3 L483.7,1412.5 L484.7,1409.6 L485.6,1406.8 L486.6,1404.0 L487.6,1401.1 L488.5,1398.3 L489.5,1395.5 L490.5,1392.6 L491.5,1389.8 L492.4,1386.9 L493.4,1384.1 L494.4,1381.3 L495.3,1378.4 L496.3,1375.6 L497.3,1372.8 L498.2,1369.9 L499.2,1367.1 L500.2,1364.2 L501.2,1361.4 L502.1,1358.6 L503.1,1355.7 L504.1,1352.9 L505.0,1350.1 L506.0,1347.2 L507.0,1344.4 L508.0,1341.6 L509.0,1338.7 L509.9,1335.9 L510.9,1333.1 L511.9,1330.2 L512.9,1327.4 L513.9,1324.6 L514.9,1321.7 L515.9,1318.9 L516.9,1316.1 L517.9,1313.2 L518.9,1310.4 L519.9,1307.6 L520.9,1304.8 L521.9,1302.0 L522.9,1299.1 L523.9,1296.3 L524.9,1293.5 L525.9,1290.7 L527.0,1287.9 L528.0,1285.0 L529.0,1282.2 L530.0,1279.4 L531.1,1276.6 L532.1,1273.8 L533.2,1271.0 L534.2,1268.2 L535.3,1265.4 L536.3,1262.6 L537.4,1259.8 L538.5,1257.0 L539.5,1254.2 L540.6,1251.4 L541.7,1248.6 L542.8,1245.8 L543.9,1243.0 L545.0,1240.3 L546.1,1237.5 L547.2,1234.7 L548.3,1231.9 L549.4,1229.1 L550.5,1226.4 L551.7,1223.6 L552.8,1220.8 L553.9,1218.1 L555.1,1215.3 L556.2,1212.5 L557.4,1209.8 L558.5,1207.0 L559.7,1204.2 L560.9,1201.5 L562.0,1198.7 L563.2,1196.0 L564.4,1193.2 L565.6,1190.5 L566.8,1187.7 L568.0,1185.0 L569.2,1182.3 L570.4,1179.5 L571.6,1176.8 L572.9,1174.0 L574.1,1171.3 L575.4,1168.6 L576.6,1165.9 L577.9,1163.1 L579.1,1160.4 L580.4,1157.7 L581.7,1155.0 L582.9,1152.3 L584.2,1149.5 L585.5,1146.8 L586.8,1144.1 L588.1,1141.4 L589.4,1138.7 L590.8,1136.0 L592.1,1133.3 L593.4,1130.6 L594.8,1127.9 L596.1,1125.3 L597.5,1122.6 L598.8,1119.9 L600.2,1117.2 L601.6,1114.5 L603.0,1111.8 L604.4,1109.2 L605.8,1106.5 L607.2,1103.8 L608.6,1101.2 L610.1,1098.5 L611.5,1095.9 L613.0,1093.3 L614.5,1090.7 L616.1,1088.2 L617.7,1085.6 L619.3,1083.1 L621.0,1080.7 L622.7,1078.3 L624.5,1075.9 L626.3,1073.6 L628.2,1071.3 L630.2,1069.1 L632.2,1066.9 L634.3,1064.8 L636.4,1062.7 L638.7,1060.8 L641.0,1058.8 L643.4,1057.0 L645.8,1055.2 L648.3,1053.5 L650.9,1051.8 L653.4,1050.2 L656.0,1048.5 L658.5,1046.9 L661.1,1045.3 L663.5,1043.7 L666.0,1042.1 L668.5,1040.8 L671.2,1039.9 L674.2,1039.5 L677.3,1039.5 L680.5,1039.6 L683.6,1039.6 L686.6,1039.7 L689.5,1040.2 L692.2,1041.1 L694.8,1042.5 L697.2,1044.2 L699.7,1046.1 L702.0,1048.0 L704.4,1049.9 L706.7,1051.8 L709.0,1053.7 L711.2,1055.7 L713.4,1057.8 L715.4,1059.9 L717.4,1062.1 L719.3,1064.4 L721.2,1066.8 L723.0,1069.2 L724.8,1071.6 L726.5,1074.1 L728.3,1076.5 L730.0,1079.0 L731.6,1081.5 L733.3,1084.0 L735.0,1086.5 L736.7,1089.0 L738.3,1091.4 L739.9,1093.9 L741.5,1096.5 L743.0,1099.0 L744.5,1101.6 L746.0,1104.2 L747.4,1106.8 L748.7,1109.4 L750.1,1112.1 L751.4,1114.8 L752.7,1117.5 L753.9,1120.2 L755.1,1122.9 L756.3,1125.7 L757.5,1128.4 L758.6,1131.2 L759.7,1134.0 L760.8,1136.8 L761.9,1139.6 L763.0,1142.4 L764.0,1145.2 L765.1,1148.1 L766.1,1150.9 L767.1,1153.7 L768.2,1156.6 L769.2,1159.4 L770.2,1162.2 L771.2,1165.1 L772.2,1167.9 L773.2,1170.7 L774.2,1173.6 L775.2,1176.4 L776.2,1179.2 L777.2,1182.1 L778.2,1184.9 L779.2,1187.8 L780.2,1190.6 L781.2,1193.4 L782.1,1196.3 L783.1,1199.1 L784.1,1201.9 L785.0,1204.8 L786.0,1207.6 L787.0,1210.5 L787.9,1213.3 L788.9,1216.1 L789.8,1219.0 L790.8,1221.8 L791.7,1224.7 L792.7,1227.5 L793.6,1230.3 L794.6,1233.2 L795.5,1236.0 L796.4,1238.9 L797.4,1241.7 L798.3,1244.6 L799.2,1247.4 L800.2,1250.3 L801.1,1253.1 L802.0,1256.0 L802.9,1258.8 L803.9,1261.7 L804.8,1264.5 L805.7,1267.4 L806.6,1270.2 L807.5,1273.1 L808.4,1275.9 L809.4,1278.8 L810.3,1281.6 L811.2,1284.5 L812.1,1287.3 L813.0,1290.2 L813.9,1293.0 L814.8,1295.9 L815.7,1298.7 L816.6,1301.6 L817.5,1304.4 L818.4,1307.3 L819.3,1310.2 L820.2,1313.0 L821.1,1315.9 L822.0,1318.7 L822.9,1321.6 L823.8,1324.4 L824.7,1327.3 L825.6,1330.2 L826.5,1333.0 L827.4,1335.9 L828.3,1338.7 L829.2,1341.6 L830.1,1344.4 L831.0,1347.3 L831.9,1350.2 L832.8,1353.0 L833.7,1355.9 L834.6,1358.7 L835.5,1361.6 L836.4,1364.4 L837.3,1367.3 L838.2,1370.2 L839.2,1373.0 L840.1,1375.9 L841.0,1378.7 L841.9,1381.6 L842.8,1384.5 L843.7,1387.3 L844.6,1390.2 L845.5,1393.0 L846.5,1395.9 L847.4,1398.7 L848.3,1401.6 L849.2,1404.4 L850.1,1407.3 L851.1,1410.2 L852.0,1413.0 L852.9,1415.9 L853.9,1418.7 L854.8,1421.6 L855.7,1424.4 L856.7,1427.3 L857.6,1430.1 L858.6,1433.0 L859.5,1435.8 L860.5,1438.7 L861.4,1441.5 L862.4,1444.4 L863.3,1447.2 L864.3,1450.1 L865.3,1452.9 L866.2,1455.8 L867.2,1458.6 L868.2,1461.4 L869.2,1464.3 L870.2,1467.1 L871.2,1470.0 L872.2,1472.8 L873.2,1475.6 L874.2,1478.5 L875.2,1481.3 L876.3,1484.1 L877.3,1486.9 L878.4,1489.7 L879.4,1492.5 L880.5,1495.3 L881.6,1498.1 L882.7,1500.9 L883.8,1503.7 L884.9,1506.5 L886.0,1509.3 L887.1,1512.1 L888.3,1514.8 L889.4,1517.6 L890.6,1520.3 L891.8,1523.1 L893.0,1525.8 L894.2,1528.5 L895.4,1531.3 L896.7,1534.0 L897.9,1536.7 L899.2,1539.4 L900.5,1542.1 L901.8,1544.8 L903.2,1547.5 L904.5,1550.1 L905.9,1552.8 L907.2,1555.4 L908.6,1558.1 L910.1,1560.7 L911.5,1563.3 L913.0,1565.9 L914.4,1568.5 L915.9,1571.1 L917.5,1573.7 L919.0,1576.2 L920.6,1578.8 L922.2,1581.3 L923.8,1583.8 L925.4,1586.4 L927.0,1588.9 L928.7,1591.4 L930.4,1593.8 L932.2,1596.3 L933.9,1598.8 L935.7,1601.2 L937.5,1603.6" fill="none" stroke="#000000" stroke-width="6.1" stroke-linejoin="round" stroke-linecap="round"/>
<text x="148.4 181.7 198.9" y="1618.9" font-family="&apos;Liberation Serif&apos;, serif" font-weight="bold" font-size="66">0.0</text>
<text x="148.4 181.7 198.0" y="1398.3" font-family="&apos;Liberation Serif&apos;, serif" font-weight="bold" font-size="66">0.1</text>
<text x="148.4 181.7 198.9" y="1177.8" font-family="&apos;Liberation Serif&apos;, serif" font-weight="bold" font-size="66">0.2</text>
<text x="148.4 181.7 198.8" y="957.2" font-family="&apos;Liberation Serif&apos;, serif" font-weight="bold" font-size="66">0.3</text>
<text x="148.4 181.7 199.1" y="736.7" font-family="&apos;Liberation Serif&apos;, serif" font-weight="bold" font-size="66">0.4</text>
<text x="148.4 181.7 198.8" y="516.1" font-family="&apos;Liberation Serif&apos;, serif" font-weight="bold" font-size="66">0.5</text>
<text x="148.4 181.7 198.7" y="295.5" font-family="&apos;Liberation Serif&apos;, serif" font-weight="bold" font-size="66">0.6</text>
<text x="148.4 181.7 197.8" y="75.0" font-family="&apos;Liberation Serif&apos;, serif" font-weight="bold" font-size="66">0.7</text>
<text x="265.5" y="1701" font-family="&apos;Liberation Serif&apos;, serif" font-weight="bold" font-size="66">0</text>
<text x="520.7" y="1701" font-family="&apos;Liberation Serif&apos;, serif" font-weight="bold" font-size="66">2</text>
<text x="775.9" y="1701" font-family="&apos;Liberation Serif&apos;, serif" font-weight="bold" font-size="66">4</text>
<text x="1030.8" y="1701" font-family="&apos;Liberation Serif&apos;, serif" font-weight="bold" font-size="66">6</text>
<text x="1286.1" y="1701" font-family="&apos;Liberation Serif&apos;, serif" font-weight="bold" font-size="66">8</text>
<text x="1523.5 1557.2" y="1701" font-family="&apos;Liberation Serif&apos;, serif" font-weight="bold" font-size="66">10</text>
<text x="1778.6 1812.4" y="1701" font-family="&apos;Liberation Serif&apos;, serif" font-weight="bold" font-size="66">12</text>
<text x="2033.7 2067.6" y="1701" font-family="&apos;Liberation Serif&apos;, serif" font-weight="bold" font-size="66">14</text>
<text font-family="&apos;Liberation Serif&apos;, serif" font-weight="bold" font-size="86"><tspan x="1050.1 1106.8 1132.4 1205.4 1243.5" y="1796.6">Time </tspan><tspan x="1265.8" y="1788.9" font-size="74.5">(</tspan><tspan x="1290.0 1363.9" y="1796.6">ms</tspan><tspan x="1398.6" y="1788.9" font-size="74.5">)</tspan></text>
<text transform="translate(86.4,0) rotate(-90)" font-family="&apos;Liberation Serif&apos;, serif" font-weight="bold" font-size="86"><tspan x="-984.1 -930.7 -888.8 -846.3 -798.4" y="0.0">Load </tspan><tspan x="-775.0" y="-7.9" font-size="74.5">(</tspan><tspan x="-749.9 -700.2" y="0.0">kN</tspan><tspan x="-635.3" y="-7.9" font-size="74.5">)</tspan></text>
<path d="M1381.5,152.6H1556.5" stroke="#ff0000" stroke-width="6" stroke-linecap="round"/>
<path d="M1381.5,262H1556.5" stroke="#0000ff" stroke-width="6" stroke-linecap="round"/>
<path d="M1381.5,358.2H1556.5" stroke="#000" stroke-width="6" stroke-linecap="round"/>
<text font-family="&apos;Liberation Serif&apos;, serif" font-size="68"><tspan x="1574.2 1613.5 1675.4 1737.2 1787.0 1807.7 1843.0 1885.4 1936.8 1957.2 2020.3 2058.5" y="178">PMMA-STO/MnO</tspan><tspan x="2107.9" y="194.6" font-size="43.5">2</tspan></text>
<text x="1574.2 1613.5 1675.4 1737.2 1787.0 1807.7 1843.0 1885.4" y="286.4" font-family="&apos;Liberation Serif&apos;, serif" font-size="68">PMMA-STO</text>
<text x="1574.2 1613.5 1675.4 1737.2" y="383.4" font-family="&apos;Liberation Serif&apos;, serif" font-size="68">PMMA</text>
</svg>
</body></html>
